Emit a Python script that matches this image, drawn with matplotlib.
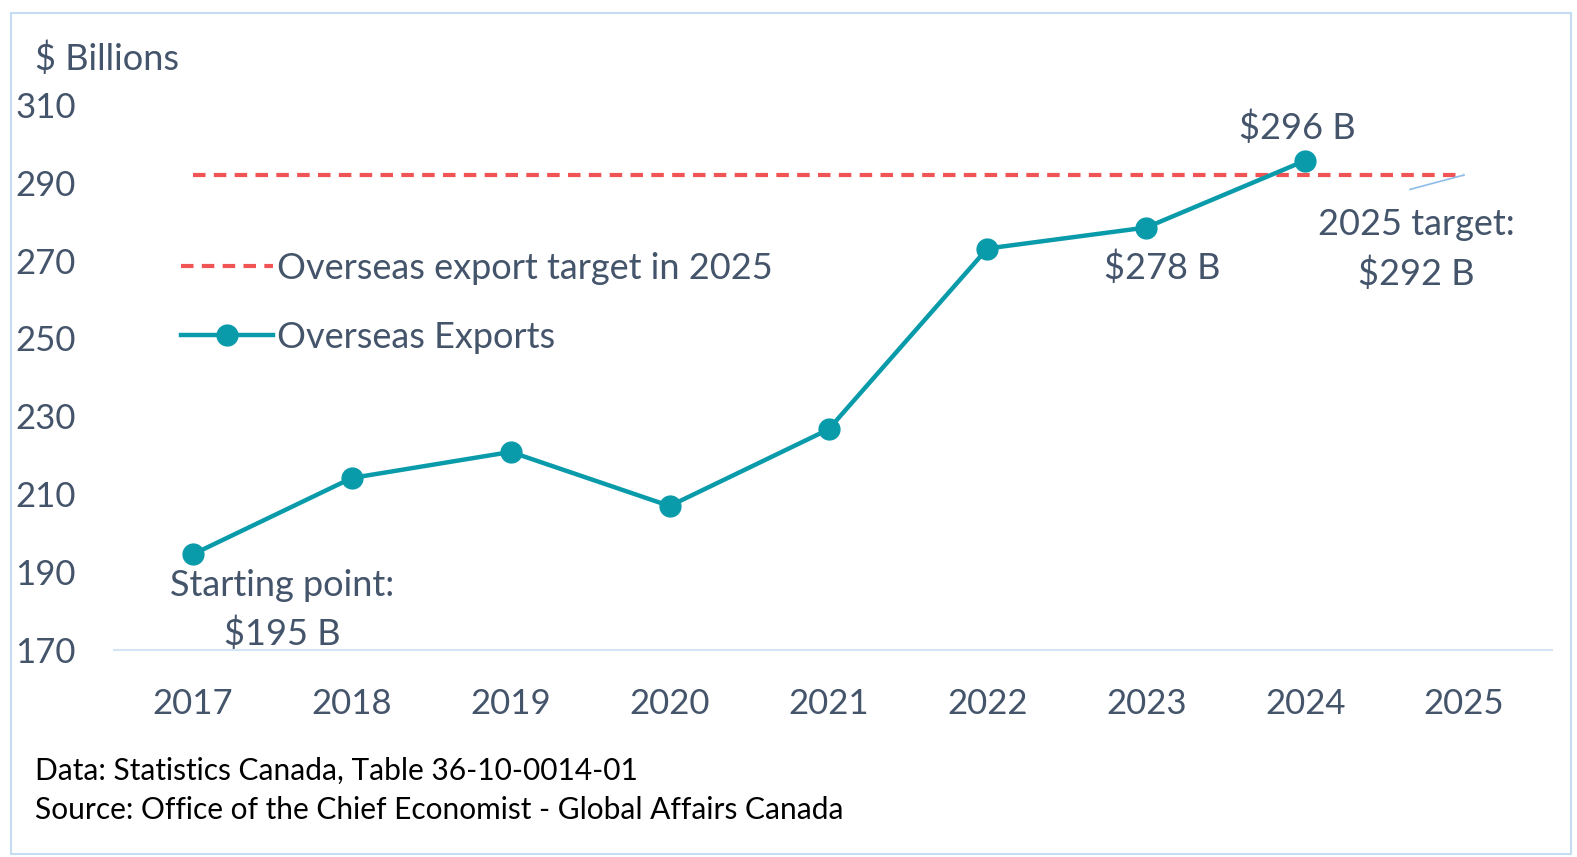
import matplotlib
matplotlib.use("Agg")
import matplotlib.pyplot as plt
from matplotlib.lines import Line2D
from matplotlib.patches import Rectangle

years = ["2017", "2018", "2019", "2020", "2021", "2022", "2023", "2024", "2025"]
exports = [194.5, 214.1, 220.8, 206.9, 226.6, 273.1, 278.5, 295.7]
target = 292
y_ticks = [170, 190, 210, 230, 250, 270, 290, 310]

TEXT = "#44546A"
TEAL = "#0A9BAB"
RED = "#F05454"

plt.rcParams["font.family"] = ["Lato", "DejaVu Sans"]

fig = plt.figure(figsize=(15.77, 8.57), dpi=100)
ax = fig.add_axes([0.0720, 0.2421, 0.9121, 0.6354])

x = list(range(len(years)))
ax.plot([x[0], x[-1]], [target, target], color=RED, lw=3, ls=(0, (3, 2)),
        label="Overseas export target in 2025")
ax.plot(x[:len(exports)], exports, color=TEAL, lw=3.2, marker="o", ms=15,
        label="Overseas Exports")

ax.set_xlim(-0.5, len(years) - 0.447)
ax.set_ylim(170, 310)
ax.set_xticks(x)
ax.set_xticklabels(years)
ax.set_yticks(y_ticks)
ax.tick_params(axis="both", length=0, labelsize=25, labelcolor=TEXT)
ax.tick_params(axis="y", pad=27)
ax.tick_params(axis="x", pad=28)
for s in ["top", "right", "left"]:
    ax.spines[s].set_visible(False)
ax.spines["bottom"].set_color("#D3E5F5")
ax.spines["bottom"].set_linewidth(1.5)

ax.legend(loc="upper left", bbox_to_anchor=(0.024, 0.79), frameon=False,
          fontsize=26, labelcolor=TEXT, handlelength=2.55, handletextpad=0.11,
          labelspacing=1.0)

# annotations
ax.text(x[0] + 0.56, exports[0] - 3.8, "Starting point:\n$195 B", ha="center", va="top",
        fontsize=26, color=TEXT, linespacing=1.52)
ax.text(x[6] + 0.1, exports[6] - 5.8, "$278 B", ha="center", va="top", fontsize=26, color=TEXT)
ax.text(x[7] - 0.05, exports[7] + 4.0, "$296 B", ha="center", va="bottom", fontsize=26, color=TEXT)
ax.text(x[8] - 0.30, target - 8.6, "2025 target:\n$292 B", ha="center", va="top",
        fontsize=26, color=TEXT, linespacing=1.52)
ax.add_line(Line2D([x[8] - 0.34, x[8]], [target - 3.7, target], color="#8DBDEB", lw=1.2))

fig.text(35 / 1577, 1 - 59 / 857, "$ Billions", fontsize=26, color=TEXT, va="center")
fig.text(35 / 1577, 1 - 771 / 857, "Data: Statistics Canada, Table 36-10-0014-01",
         fontsize=21.5, color="black", va="center")
fig.text(35 / 1577, 1 - 810 / 857, "Source: Office of the Chief Economist - Global Affairs Canada",
         fontsize=21.5, color="black", va="center")

fig.add_artist(Rectangle((11 / 1577, 1 - 854 / 857), 1560 / 1577, 841 / 857,
                         transform=fig.transFigure, fill=False, ec="#C5DDF3", lw=1.5))

fig.savefig("out.png", dpi=100)
